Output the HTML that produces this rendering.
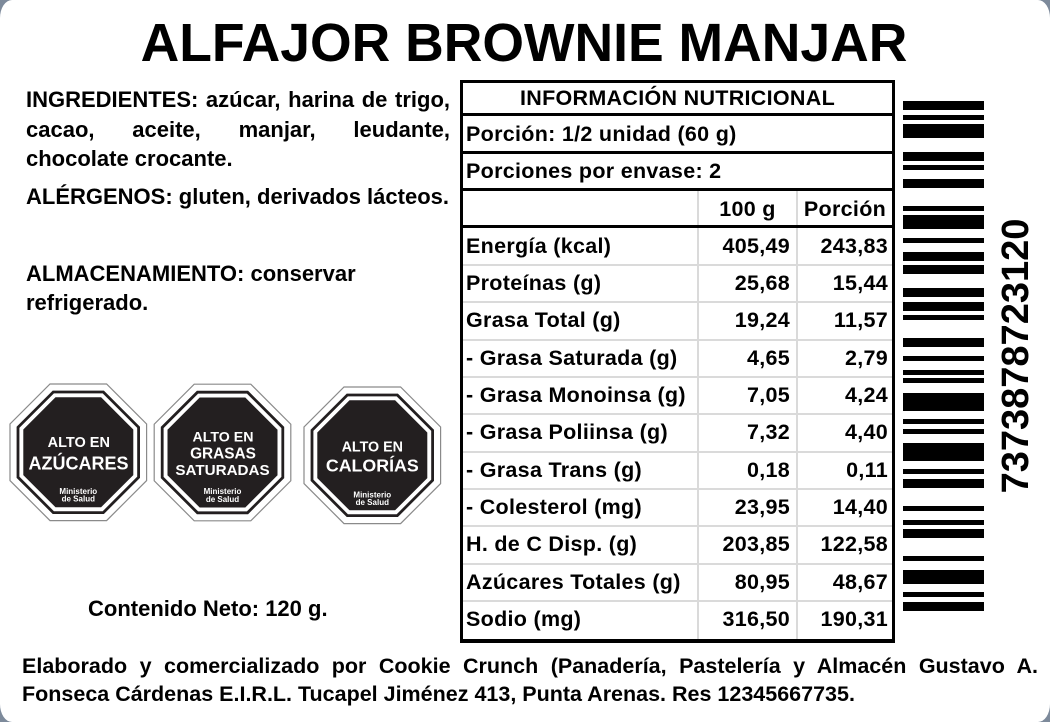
<!DOCTYPE html>
<html><head><meta charset="utf-8">
<style>
html,body{margin:0;padding:0;}
body{width:1050px;height:722px;background:#7d8a9b;position:relative;overflow:hidden;font-family:"Liberation Sans",Arial,sans-serif;font-weight:bold;color:#000;}
.card{position:absolute;left:0;top:0;width:1050px;height:722px;background:#fff;border-radius:12px/18px;}
.abs{position:absolute;white-space:nowrap;}
.title{position:absolute;left:-1px;top:17px;width:1050px;text-align:center;font-size:53.5px;line-height:53px;}
.txt{position:absolute;left:26px;width:424px;font-size:22px;}
.tbl{position:absolute;left:460px;top:80px;width:435px;height:563px;box-sizing:border-box;border:3px solid #000;border-bottom-width:4.5px;font-size:21.5px;letter-spacing:0.3px;}
.hl{position:absolute;left:0;width:429px;background:#000;}
.gl{position:absolute;left:0;width:429px;height:2px;background:#dadada;}
.vl{position:absolute;width:2px;background:#dadada;top:108px;height:447.5px;}
.cell{position:absolute;left:0;width:429px;}
.r{position:absolute;left:0;width:429px;height:37.36px;line-height:37.36px;}
.r span{position:absolute;white-space:nowrap;}
.l{left:3px;}
.a{right:102px;}
.b{right:4px;}
.bar{position:absolute;left:903px;width:81px;background:#000;}
</style></head>
<body>
<div class="card"></div>

<div class="title">ALFAJOR BROWNIE MANJAR</div>

<div class="txt" style="top:85px;line-height:29.5px;text-align:justify;text-align-last:left;">INGREDIENTES: azúcar, harina de trigo, cacao, aceite, manjar, leudante, chocolate crocante.</div>
<div class="txt" style="top:182px;line-height:29.5px;">ALÉRGENOS: gluten, derivados lácteos.</div>
<div class="txt" style="top:260px;line-height:28.5px;">ALMACENAMIENTO: conservar<br>refrigerado.</div>

<svg class="abs" style="left:0;top:0" width="460" height="560" viewBox="0 0 460 560">
<defs>
<g id="oct">
<polygon points="-28.3,-68.3 28.3,-68.3 68.3,-28.3 68.3,28.3 28.3,68.3 -28.3,68.3 -68.3,28.3 -68.3,-28.3" fill="#fff" stroke="#8a8a8a" stroke-width="1.2"/>
<polygon points="-25,-60.3 25,-60.3 60.3,-25 60.3,25 25,60.3 -25,60.3 -60.3,25 -60.3,-25" fill="none" stroke="#231f20" stroke-width="2.8"/>
<polygon points="-22.8,-55 22.8,-55 55,-22.8 55,22.8 22.8,55 -22.8,55 -55,22.8 -55,-22.8" fill="#231f20"/>
</g>
</defs>
<use href="#oct" transform="translate(78.3,452.3)"/>
<use href="#oct" transform="translate(222.5,452.5)"/>
<use href="#oct" transform="translate(372.3,455.3)"/>
<g font-family="Liberation Sans, Arial, sans-serif" font-weight="bold" fill="#fff" text-anchor="middle">
<text x="78.8" y="447" font-size="14.5">ALTO EN</text>
<text x="78.5" y="469.3" font-size="18">AZÚCARES</text>
<text x="78.3" y="494" font-size="8">Ministerio</text>
<text x="78.3" y="501.7" font-size="8">de Salud</text>

<text x="223" y="441.7" font-size="14.2">ALTO EN</text>
<text x="223" y="458.3" font-size="15.4">GRASAS</text>
<text x="222.5" y="475" font-size="15.2">SATURADAS</text>
<text x="222.5" y="494" font-size="8">Ministerio</text>
<text x="222.5" y="501.8" font-size="8">de Salud</text>

<text x="372.3" y="451.7" font-size="14.3">ALTO EN</text>
<text x="372.3" y="471.7" font-size="17.8">CALORÍAS</text>
<text x="372.3" y="497.3" font-size="8">Ministerio</text>
<text x="372.3" y="505" font-size="8">de Salud</text>
</g>
</svg>

<div class="abs" style="left:88px;top:598px;font-size:22px;line-height:22px;">Contenido Neto: 120 g.</div>

<div class="tbl">
  <div class="cell" style="top:0;height:30px;line-height:30px;text-align:center;">INFORMACIÓN NUTRICIONAL</div>
  <div class="hl" style="top:30px;height:3px;"></div>
  <div class="cell" style="top:33px;height:35px;line-height:36px;"><span style="position:absolute;left:3px;white-space:nowrap;">Porción: 1/2 unidad (60 g)</span></div>
  <div class="hl" style="top:68px;height:3px;"></div>
  <div class="cell" style="top:71px;height:34px;line-height:35px;"><span style="position:absolute;left:3px;white-space:nowrap;">Porciones por envase: 2</span></div>
  <div class="hl" style="top:105px;height:3px;"></div>

  <div class="vl" style="left:234px;"></div>
  <div class="vl" style="left:333px;"></div>

  <div class="cell" style="top:108px;height:34px;line-height:36px;">
    <span style="position:absolute;left:236px;width:97px;text-align:center;">100 g</span>
    <span style="position:absolute;left:335px;width:94px;text-align:center;">Porción</span>
  </div>
  <div class="hl" style="top:142px;height:2.5px;"></div>

  <div class="gl" style="top:180.9px;"></div>
  <div class="gl" style="top:218.2px;"></div>
  <div class="gl" style="top:255.6px;"></div>
  <div class="gl" style="top:292.9px;"></div>
  <div class="gl" style="top:330.3px;"></div>
  <div class="gl" style="top:367.7px;"></div>
  <div class="gl" style="top:405px;"></div>
  <div class="gl" style="top:442.4px;"></div>
  <div class="gl" style="top:479.7px;"></div>
  <div class="gl" style="top:517.1px;"></div>

  <div class="r" style="top:144.5px"><span class="l">Energía (kcal)</span><span class="a">405,49</span><span class="b">243,83</span></div>
  <div class="r" style="top:181.9px"><span class="l">Proteínas (g)</span><span class="a">25,68</span><span class="b">15,44</span></div>
  <div class="r" style="top:219.2px"><span class="l">Grasa Total (g)</span><span class="a">19,24</span><span class="b">11,57</span></div>
  <div class="r" style="top:256.6px"><span class="l">- Grasa Saturada (g)</span><span class="a">4,65</span><span class="b">2,79</span></div>
  <div class="r" style="top:293.9px"><span class="l">- Grasa Monoinsa (g)</span><span class="a">7,05</span><span class="b">4,24</span></div>
  <div class="r" style="top:331.3px"><span class="l">- Grasa Poliinsa (g)</span><span class="a">7,32</span><span class="b">4,40</span></div>
  <div class="r" style="top:368.7px"><span class="l">- Grasa Trans (g)</span><span class="a">0,18</span><span class="b">0,11</span></div>
  <div class="r" style="top:406px"><span class="l">- Colesterol (mg)</span><span class="a">23,95</span><span class="b">14,40</span></div>
  <div class="r" style="top:443.4px"><span class="l">H. de C Disp. (g)</span><span class="a">203,85</span><span class="b">122,58</span></div>
  <div class="r" style="top:480.7px"><span class="l">Azúcares Totales (g)</span><span class="a">80,95</span><span class="b">48,67</span></div>
  <div class="r" style="top:518.1px"><span class="l">Sodio (mg)</span><span class="a">316,50</span><span class="b">190,31</span></div>
</div>

<div class="bar" style="top:101px;height:9px"></div>
<div class="bar" style="top:115px;height:5px"></div>
<div class="bar" style="top:124px;height:14px"></div>
<div class="bar" style="top:152px;height:9px"></div>
<div class="bar" style="top:165px;height:5px"></div>
<div class="bar" style="top:179px;height:9px"></div>
<div class="bar" style="top:206px;height:5px"></div>
<div class="bar" style="top:215px;height:14px"></div>
<div class="bar" style="top:238px;height:5px"></div>
<div class="bar" style="top:252px;height:9px"></div>
<div class="bar" style="top:265px;height:9px"></div>
<div class="bar" style="top:288px;height:9px"></div>
<div class="bar" style="top:302px;height:9px"></div>
<div class="bar" style="top:315px;height:5px"></div>
<div class="bar" style="top:338px;height:9px"></div>
<div class="bar" style="top:356px;height:5px"></div>
<div class="bar" style="top:370px;height:5px"></div>
<div class="bar" style="top:378px;height:5px"></div>
<div class="bar" style="top:393px;height:18px"></div>
<div class="bar" style="top:419px;height:5px"></div>
<div class="bar" style="top:429px;height:5px"></div>
<div class="bar" style="top:443px;height:18px"></div>
<div class="bar" style="top:469px;height:5px"></div>
<div class="bar" style="top:479px;height:9px"></div>
<div class="bar" style="top:506px;height:5px"></div>
<div class="bar" style="top:520px;height:5px"></div>
<div class="bar" style="top:529px;height:9px"></div>
<div class="bar" style="top:556px;height:5px"></div>
<div class="bar" style="top:570px;height:14px"></div>
<div class="bar" style="top:592px;height:5px"></div>
<div class="bar" style="top:602px;height:9px"></div>

<div class="abs" style="left:866px;top:336px;width:300px;height:40px;line-height:40px;font-size:38px;text-align:center;transform:rotate(-90deg);">7373878723120</div>

<div class="abs" style="left:22px;top:651.5px;width:1016px;font-size:21.5px;line-height:28px;white-space:normal;text-align:justify;text-align-last:left;">Elaborado y comercializado por Cookie Crunch (Panadería, Pastelería y Almacén Gustavo A. Fonseca Cárdenas E.I.R.L. Tucapel Jiménez 413, Punta Arenas. Res 12345667735.</div>

</body></html>
